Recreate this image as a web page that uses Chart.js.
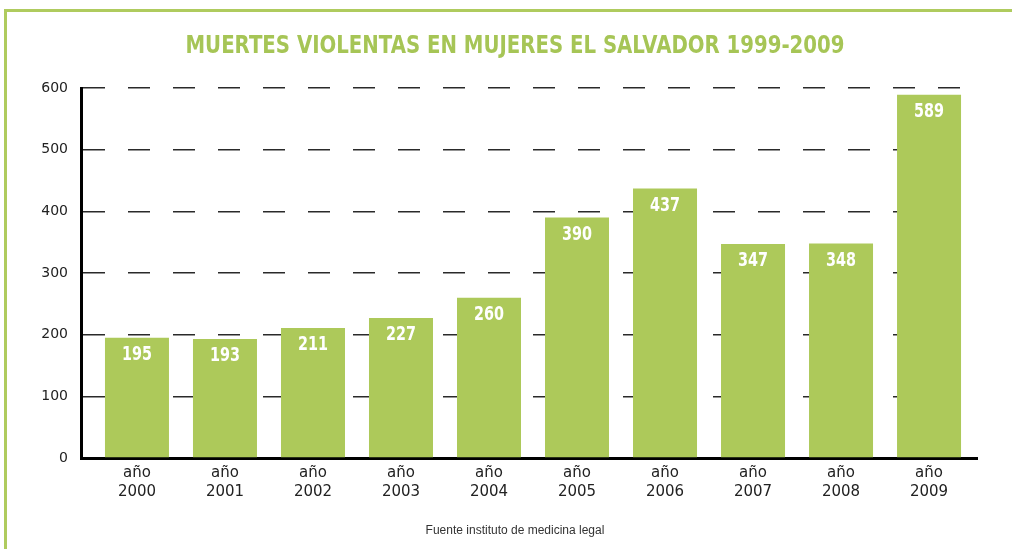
<!DOCTYPE html>
<html>
<head>
<meta charset="utf-8">
<script src="https://cdn.jsdelivr.net/npm/chart.js@4/dist/chart.umd.min.js"></script>
<style>
  html, body { margin: 0; padding: 0; background: #fff; }
  #wrap { position: relative; width: 1012px; height: 549px; overflow: hidden; }
  #frame { position: absolute; left: 4px; top: 9px; width: 1020px; height: 560px;
           border-left: 3px solid #afcb5e; border-top: 3px solid #afcb5e; }
  canvas { position: absolute; left: 0; top: 0; }
</style>
</head>
<body>
<div id="wrap">
  <div id="frame"></div>
  <canvas id="chart" width="1012" height="549"></canvas>
</div>
<script>
const years = [2000, 2001, 2002, 2003, 2004, 2005, 2006, 2007, 2008, 2009];
const deaths = [195, 193, 211, 227, 260, 390, 437, 347, 348, 589];
const yTicks = [0, 100, 200, 300, 400, 500, 600];
const yearPrefix = 'año';
const title = 'MUERTES VIOLENTAS EN MUJERES EL SALVADOR 1999-2009';
const source = 'Fuente instituto de medicina legal';

const green = '#adc95a';

// no narrow font here, so squeeze the text to the width it has in the original
function narrowText(ctx, text, x, y, width) {
  const w = ctx.measureText(text).width;
  const sx = Math.min(1, width / w);
  ctx.save();
  ctx.translate(x, y);
  ctx.scale(sx, 1);
  ctx.fillText(text, 0, 0);
  ctx.restore();
}

const textPlugin = {
  id: 'texts',
  afterDatasetsDraw(chart) {
    const ctx = chart.ctx;
    ctx.save();
    ctx.textAlign = 'center';
    ctx.textBaseline = 'middle';
    ctx.fillStyle = '#fff';
    ctx.font = 'bold 20px "DejaVu Sans", sans-serif';
    chart.getDatasetMeta(0).data.forEach((bar, i) => {
      const label = String(deaths[i]);
      narrowText(ctx, label, bar.x, bar.y + 17, 30 * label.length / 3);
    });
    ctx.restore();
  },
  afterDraw(chart) {
    const ctx = chart.ctx;
    ctx.save();
    ctx.textAlign = 'center';
    ctx.textBaseline = 'middle';
    ctx.fillStyle = '#a6c556';
    ctx.font = 'bold 25px "DejaVu Sans", sans-serif';
    narrowText(ctx, title, 515, 46, 659);
    ctx.fillStyle = '#333';
    ctx.font = '12px "Liberation Sans", sans-serif';
    ctx.fillText(source, 515, 531);
    ctx.restore();
  }
};

new Chart(document.getElementById('chart'), {
  type: 'bar',
  data: {
    datasets: [{
      data: years.map((y, i) => ({ x: y, y: deaths[i] })),
      backgroundColor: green,
      borderWidth: 0,
      barPercentage: 64 / 88,
      categoryPercentage: 1
    }]
  },
  options: {
    responsive: false,
    animation: false,
    layout: { padding: { top: 88, right: 35, left: 0, bottom: 0 } },
    plugins: { legend: { display: false }, tooltip: { enabled: false } },
    scales: {
      x: {
        type: 'linear',
        offset: false,
        min: 1999.364,
        max: 2009.545,
        afterBuildTicks: s => { s.ticks = years.map(v => ({ value: v })); },
        afterFit: s => { s.height = 91; },
        grid: { display: false },
        border: { display: true, width: 3, color: '#000' },
        ticks: {
          autoSkip: false,
          maxRotation: 0,
          padding: -2,
          color: '#222',
          font: { family: '"DejaVu Sans", sans-serif', size: 15, lineHeight: 1.27 },
          callback: v => [yearPrefix, String(v)]
        }
      },
      y: {
        min: 0,
        max: 600,
        afterBuildTicks: s => { s.ticks = yTicks.map(v => ({ value: v })); },
        afterFit: s => { s.width = 81; },
        grid: { color: '#2a2a2a', lineWidth: 1.5, drawTicks: false },
        border: { display: true, width: 3, color: '#000', dash: [22, 23] },
        ticks: {
          padding: 13,
          color: '#222',
          font: { family: '"DejaVu Sans", sans-serif', size: 14 }
        }
      }
    }
  },
  plugins: [textPlugin]
});
</script>
</body>
</html>
